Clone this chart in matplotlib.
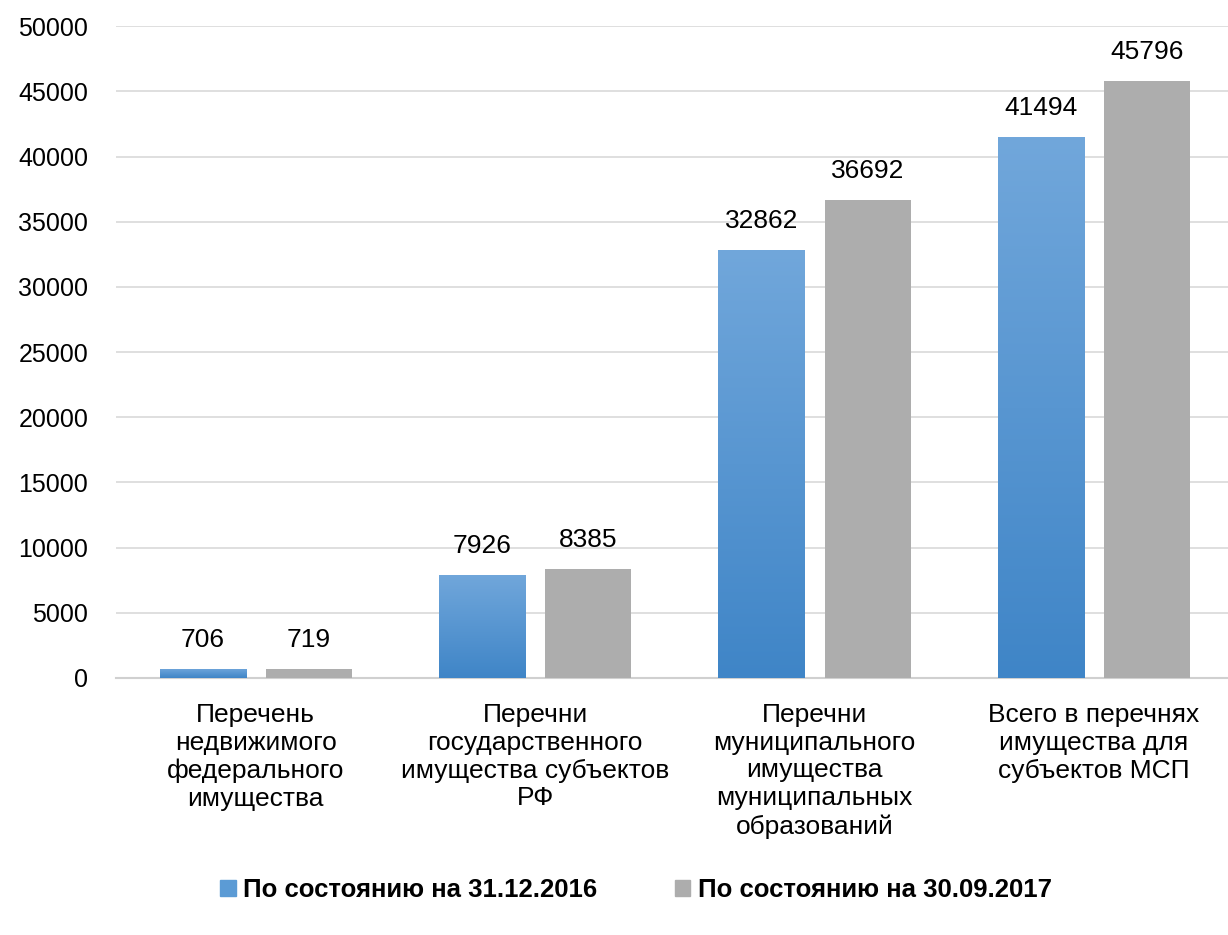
import numpy as np
import matplotlib.pyplot as plt
from matplotlib.patches import Rectangle
from matplotlib.colors import LinearSegmentedColormap

categories = ['Перечень\nнедвижимого\nфедерального\nимущества',
              'Перечни\nгосударственного\nимущества субъектов\nРФ',
              'Перечни\nмуниципального\nимущества\nмуниципальных\nобразований',
              'Всего в перечнях\nимущества для\nсубъектов МСП']
series_names = ['По состоянию на 31.12.2016', 'По состоянию на 30.09.2017']
vals_2016 = [706, 7926, 32862, 41494]
vals_2017 = [719, 8385, 36692, 45796]
yticks = list(range(0, 50001, 5000))

plt.rcParams['font.family'] = ['Liberation Sans', 'DejaVu Sans']

fig = plt.figure(figsize=(12.28, 9.35), dpi=100)
ax = fig.add_axes([0.0945, 0.275, 0.91, 0.697])

x = np.arange(len(categories))
w = 0.308
off = 0.19
grad = np.linspace(0, 1, 256).reshape(-1, 1)
cmap = LinearSegmentedColormap.from_list('b', ['#3F85C7', '#71A7DB'])

for i in range(len(categories)):
    # blue bar, vertical gradient
    x0 = x[i] - off - w / 2
    h = vals_2016[i]
    rect = Rectangle((x0, 0), w, h, facecolor='none', edgecolor='none', zorder=3)
    ax.add_patch(rect)
    im = ax.imshow(grad, extent=(x0, x0 + w, 0, h), origin='lower', aspect='auto',
                   cmap=cmap, zorder=3)
    im.set_clip_path(rect)
    ax.annotate(str(h), (x[i] - off, h), xytext=(0, 12), textcoords='offset points',
                ha='center', va='bottom', fontsize=19, zorder=4)
    # gray bar
    ax.bar(x[i] + off, vals_2017[i], w, color='#ADADAD', zorder=3)
    ax.annotate(str(vals_2017[i]), (x[i] + off, vals_2017[i]), xytext=(0, 12),
                textcoords='offset points', ha='center', va='bottom', fontsize=19, zorder=4)

ax.set_xlim(-0.5, 3.5)
ax.set_ylim(0, 50000)
ax.set_yticks(yticks)
ax.set_yticklabels([str(t) for t in yticks], fontsize=18)
ax.set_xticks(x)
ax.set_xticklabels(categories, fontsize=19, va='top', linespacing=1.2)
ax.tick_params(axis='y', length=0, pad=20)
ax.tick_params(axis='x', length=0, pad=18)
ax.grid(axis='y', color='#D9D9D9', linewidth=1.2, zorder=0)
for s in ['top', 'right', 'left']:
    ax.spines[s].set_visible(False)
ax.spines['bottom'].set_color('#D0D0D0')
ax.spines['bottom'].set_linewidth(1.5)

handles = [Rectangle((0, 0), 1, 1, color='#5B9BD5'), Rectangle((0, 0), 1, 1, color='#ADADAD')]
fig.legend(handles, series_names, loc='center', bbox_to_anchor=(0.518, 0.048), ncol=2,
           frameon=False, handlelength=0.6, handleheight=0.6, handletextpad=0.3,
           columnspacing=3.0, prop={'weight': 'bold', 'size': 18.5})

fig.savefig('out.png', dpi=100)
